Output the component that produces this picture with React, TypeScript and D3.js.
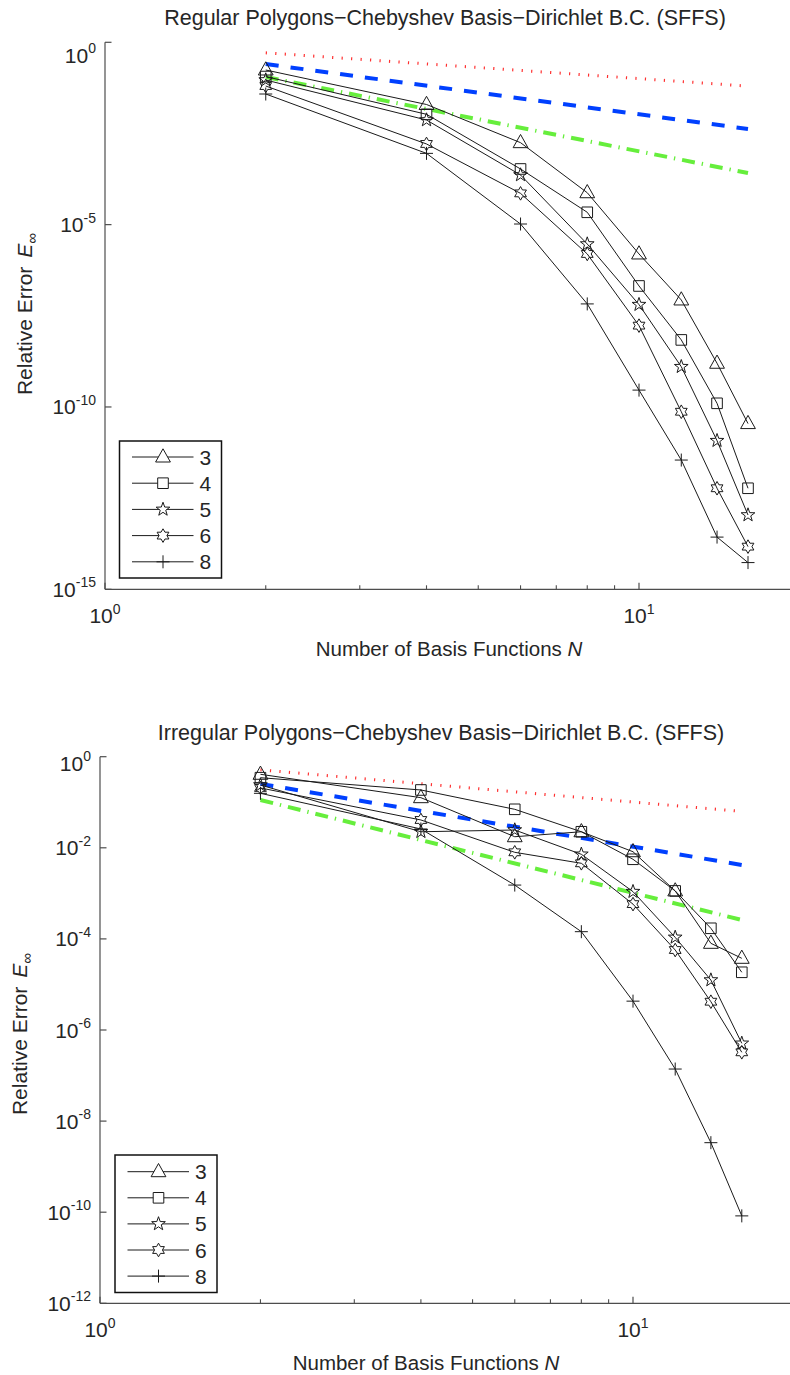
import React from "react";
import * as d3 from "d3";

// ---------- data ----------
const nValues = [2, 4, 6, 8, 10, 12, 14, 16];
const seriesNames = ["3", "4", "5", "6", "8"];
const markerKinds = ["triangle", "square", "pentagram", "hexagram", "plus"];

// Regular polygons (top chart)
const reg3 = [0.174, 0.0197, 1.77e-3, 7.5e-5, 1.57e-6, 8.6e-8, 1.58e-9, 3.5e-11];
const reg4 = [0.115, 0.0106, 3.36e-4, 2.18e-5, 2.08e-7, 6.9e-9, 1.26e-10, 5.9e-13];
const reg5 = [0.0925, 0.0074, 2.3e-4, 2.94e-6, 6.4e-8, 1.27e-9, 1.19e-11, 1.09e-13];
const reg6 = [0.0633, 1.63e-3, 7.2e-5, 1.57e-6, 1.7e-8, 7.4e-11, 5.9e-13, 1.48e-14];
const reg8 = [0.0382, 9.0e-4, 1.04e-5, 6.7e-8, 2.9e-10, 3.5e-12, 2.7e-14, 5.4e-15];

// Irregular polygons (bottom chart)
const irr3 = [0.411, 0.126, 0.0175, 0.0225, 0.0082, 1.13e-3, 8.0e-5, 3.75e-5];
const irr4 = [0.346, 0.186, 0.07, 0.0225, 0.0056, 1.13e-3, 1.71e-4, 1.85e-5];
const irr5 = [0.239, 0.0225, 0.0246, 0.0072, 1.09e-3, 1.08e-4, 1.25e-5, 5.1e-7];
const irr6 = [0.206, 0.0408, 7.96e-3, 4.57e-3, 5.8e-4, 5.7e-5, 4.18e-6, 3.24e-7];
const irr8 = [0.157, 0.0259, 1.52e-3, 1.44e-4, 4.3e-6, 1.39e-7, 3.36e-9, 8.3e-11];

// reference slopes (endpoints at N = 2 and N = 16)
const refN = [2, 16];
const refOrder1 = [0.515, 0.0628];
const refOrder2 = [0.253, 0.0042];
const refOrder3 = [0.112, 2.6e-4];

const yTicksTop = [1, 1e-5, 1e-10, 1e-15];
const yTickExpTop = ["0", "-5", "-10", "-15"];
const yTicksBottom = [1, 1e-2, 1e-4, 1e-6, 1e-8, 1e-10, 1e-12];
const yTickExpBottom = ["0", "-2", "-4", "-6", "-8", "-10", "-12"];
const xMajorTicks = [1, 10];
const xMajorExp = ["0", "1"];
const xMinorTicks = [2, 3, 4, 5, 6, 7, 8, 9];

const titleTop = "Regular Polygons\u2212Chebyshev Basis\u2212Dirichlet B.C. (SFFS)";
const titleBottom = "Irregular Polygons\u2212Chebyshev Basis\u2212Dirichlet B.C. (SFFS)";

// ---------- styling ----------
const FONT = "'Liberation Sans', Arial, Helvetica, sans-serif";
const AXIS_COLOR = "#4d4d4d";
const TEXT_COLOR = "#262626";
const LINE_COLOR = "#1a1a1a";

function markerPath(kind: string): string {
  if (kind === "triangle") {
    return "M0,-8.2L7.4,5L-7.4,5Z";
  }
  if (kind === "square") {
    return "M-5.3,-5.3H5.3V5.3H-5.3Z";
  }
  if (kind === "pentagram") {
    const ro = 7.2, ri = 2.9;
    const pts: string[] = [];
    for (let i = 0; i < 10; i++) {
      const r = i % 2 === 0 ? ro : ri;
      const a = -Math.PI / 2 + (i * Math.PI) / 5;
      pts.push(`${(r * Math.cos(a)).toFixed(2)},${(r * Math.sin(a)).toFixed(2)}`);
    }
    return "M" + pts.join("L") + "Z";
  }
  if (kind === "hexagram") {
    const ro = 6.8, ri = 6.8 / Math.sqrt(3);
    const pts: string[] = [];
    for (let i = 0; i < 12; i++) {
      const r = i % 2 === 0 ? ro : ri;
      const a = -Math.PI / 2 + (i * Math.PI) / 6;
      pts.push(`${(r * Math.cos(a)).toFixed(2)},${(r * Math.sin(a)).toFixed(2)}`);
    }
    return "M" + pts.join("L") + "Z";
  }
  return "M-6.5,0H6.5M0,-6.5V6.5";
}

type ChartCfg = {
  title: string;
  titleX: number;
  titleY: number;
  series: number[][];
  axisX: number;
  decadeX: number;
  yTop: number;
  yBottom: number;
  yMin: number;
  yTicks: number[];
  yExp: string[];
  topLabelShift: number;
  yLabelX: number;
  yLabelY: number;
  xLabelX: number;
  legend: { x: number; y: number; w: number; h: number; row0: number; rowGap: number };
};

function Chart({ cfg }: { cfg: ChartCfg }) {
  const xMaxPx = 790;
  const x = d3
    .scaleLog()
    .domain([1, Math.pow(10, (xMaxPx - cfg.axisX) / cfg.decadeX)])
    .range([cfg.axisX, xMaxPx]);
  const y = d3.scaleLog().domain([1, cfg.yMin]).range([cfg.yTop, cfg.yBottom]);
  const line = d3
    .line<[number, number]>()
    .x((d) => x(d[0]))
    .y((d) => y(d[1]));

  const refs = [
    { vals: refOrder1, color: "#ff3030", width: 3, dash: "1.2 8.3" },
    { vals: refOrder2, color: "#0040ff", width: 4, dash: "13 12" },
    { vals: refOrder3, color: "#66ee3c", width: 4, dash: "13 7 1.3 7" },
  ];

  const L = cfg.legend;

  return (
    <g>
      <text
        x={cfg.titleX}
        y={cfg.titleY}
        textAnchor="middle"
        fontSize={21.5}
        fill={TEXT_COLOR}
        fontFamily={FONT}
      >
        {cfg.title}
      </text>

      {/* axes */}
      <line x1={cfg.axisX} x2={cfg.axisX} y1={cfg.yTop} y2={cfg.yBottom} stroke={AXIS_COLOR} strokeWidth={1.2} />
      <line x1={cfg.axisX} x2={xMaxPx} y1={cfg.yBottom} y2={cfg.yBottom} stroke={AXIS_COLOR} strokeWidth={1.2} />

      {cfg.yTicks.map((t, i) => (
        <g key={"yt" + i}>
          <line x1={cfg.axisX} x2={cfg.axisX + 6.5} y1={y(t)} y2={y(t)} stroke={AXIS_COLOR} strokeWidth={1.2} />
          <text
            x={cfg.axisX - 9}
            y={y(t) + 7.5 + (i === 0 ? cfg.topLabelShift : 0)}
            textAnchor="end"
            fontSize={21}
            fill={TEXT_COLOR}
            fontFamily={FONT}
          >
            10
            <tspan dy={-9.5} fontSize={14}>
              {cfg.yExp[i]}
            </tspan>
          </text>
        </g>
      ))}

      {xMinorTicks.map((t) => (
        <line key={"xm" + t} x1={x(t)} x2={x(t)} y1={cfg.yBottom} y2={cfg.yBottom - 4} stroke={AXIS_COLOR} strokeWidth={1.1} />
      ))}
      {xMajorTicks.map((t, i) => (
        <g key={"xt" + i}>
          <line x1={x(t)} x2={x(t)} y1={cfg.yBottom} y2={cfg.yBottom - 6.5} stroke={AXIS_COLOR} strokeWidth={1.2} />
          <text
            x={x(t)}
            y={cfg.yBottom + 34}
            textAnchor="middle"
            fontSize={21}
            fill={TEXT_COLOR}
            fontFamily={FONT}
          >
            10
            <tspan dy={-9.5} fontSize={14}>
              {xMajorExp[i]}
            </tspan>
          </text>
        </g>
      ))}

      {/* axis labels */}
      <text
        x={cfg.xLabelX}
        y={cfg.yBottom + 67}
        textAnchor="middle"
        fontSize={20.5}
        fill={TEXT_COLOR}
        fontFamily={FONT}
      >
        Number of Basis Functions <tspan fontStyle="italic">N</tspan>
      </text>
      <text
        transform={`translate(${cfg.yLabelX},${cfg.yLabelY}) rotate(-90)`}
        textAnchor="middle"
        fontSize={21}
        fill={TEXT_COLOR}
        fontFamily={FONT}
      >
        Relative Error
        <tspan dx={9} fontStyle="italic">
          E
        </tspan>
        <tspan dy={5} fontSize={15}>
          {"\u221E"}
        </tspan>
      </text>

      {/* reference slope lines */}
      {refs.map((r, i) => (
        <path
          key={"ref" + i}
          d={line(refN.map((n, k) => [n, r.vals[k]] as [number, number])) || ""}
          fill="none"
          stroke={r.color}
          strokeWidth={r.width}
          strokeDasharray={r.dash}
        />
      ))}

      {/* data series */}
      {cfg.series.map((vals, si) => (
        <g key={"s" + si}>
          <path
            d={line(nValues.map((n, k) => [n, vals[k]] as [number, number])) || ""}
            fill="none"
            stroke={LINE_COLOR}
            strokeWidth={1}
          />
          {nValues.map((n, k) => (
            <path
              key={k}
              transform={`translate(${x(n)},${y(vals[k])})`}
              d={markerPath(markerKinds[si])}
              fill="none"
              stroke={LINE_COLOR}
              strokeWidth={1}
            />
          ))}
        </g>
      ))}

      {/* legend */}
      <rect x={L.x} y={L.y} width={L.w} height={L.h} fill="#fff" stroke="#111" strokeWidth={1.5} />
      {seriesNames.map((name, i) => {
        const ry = L.row0 + i * L.rowGap;
        return (
          <g key={"lg" + i}>
            <line x1={L.x + 12.5} x2={L.x + 74} y1={ry} y2={ry} stroke={LINE_COLOR} strokeWidth={1} />
            <path
              transform={`translate(${L.x + 43.5},${ry})`}
              d={markerPath(markerKinds[i])}
              fill="#fff"
              stroke={LINE_COLOR}
              strokeWidth={1}
            />
            <text x={L.x + 80} y={ry + 7.5} fontSize={21} fill={TEXT_COLOR} fontFamily={FONT}>
              {name}
            </text>
          </g>
        );
      })}
    </g>
  );
}

const topCfg: ChartCfg = {
  title: titleTop,
  titleX: 445,
  titleY: 25,
  series: [reg3, reg4, reg5, reg6, reg8],
  axisX: 105,
  decadeX: 534,
  yTop: 42.3,
  yBottom: 589.3,
  yMin: 1e-15,
  yTicks: yTicksTop,
  yExp: yTickExpTop,
  topLabelShift: 13,
  yLabelX: 31.5,
  yLabelY: 314,
  xLabelX: 449,
  legend: { x: 119.5, y: 441, w: 102, h: 137, row0: 457, rowGap: 26.2 },
};

const bottomCfg: ChartCfg = {
  title: titleBottom,
  titleX: 441,
  titleY: 740,
  series: [irr3, irr4, irr5, irr6, irr8],
  axisX: 100,
  decadeX: 533,
  yTop: 756.7,
  yBottom: 1303.3,
  yMin: 1e-12,
  yTicks: yTicksBottom,
  yExp: yTickExpBottom,
  topLabelShift: 6.5,
  yLabelX: 26.5,
  yLabelY: 1034,
  xLabelX: 426,
  legend: { x: 115, y: 1155, w: 102, h: 137.5, row0: 1171.7, rowGap: 26.1 },
};

export default function App() {
  return (
    <svg
      width={790}
      height={1375}
      viewBox="0 0 790 1375"
      style={{ position: "absolute", left: 0, top: 0, background: "#fff" }}
    >
      <rect x={0} y={0} width={790} height={1375} fill="#fff" />
      <Chart cfg={topCfg} />
      <Chart cfg={bottomCfg} />
    </svg>
  );
}
